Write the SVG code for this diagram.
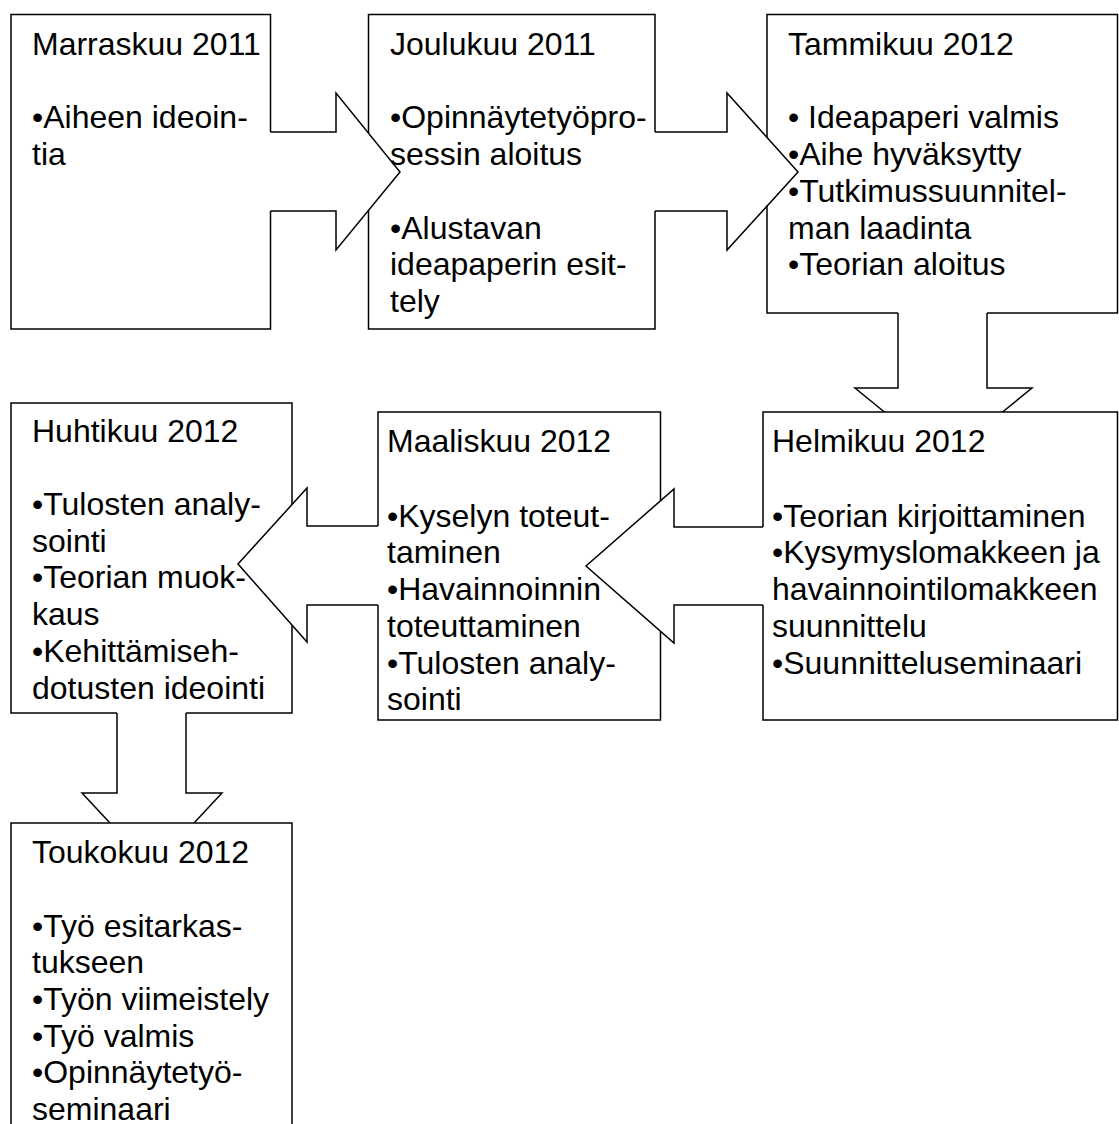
<svg xmlns="http://www.w3.org/2000/svg" width="1119" height="1124" viewBox="0 0 1119 1124">
<style>
.edge{fill:none;stroke:#000;stroke-width:1.5;stroke-linejoin:miter}
.box{fill:none;stroke:#000;stroke-width:1.5}
text{font-family:"Liberation Sans",Arial,sans-serif;font-size:32px;fill:#000}
</style>
<rect width="1119" height="1124" fill="#fff"/>
<g id="connectors">
<path class="edge" d="M270.5,132 H336 V93 L400,172 L336,250 V211 H270.5"/>
<path class="edge" d="M655,132 H727 V93 L798,172 L727,250 V211 H655"/>
<path class="edge" d="M898,313 V388 H855 L884.4,412 M1002.6,412 L1032,388 H987 V313"/>
<path class="edge" d="M763,527 H674 V489 L586,566 L674,643 V605 H763"/>
<path class="edge" d="M378,526 H307 V488 L238,564 L307,642 V605 H378"/>
<path class="edge" d="M117,713 V793 H82 L110,823 M194,823 L222,793 H186 V713"/>
</g>
<g id="marraskuu">
<path class="box" d="M270.5,132 V14.5 H11 V329 H270.5 V211"/>
<text x="32"><tspan x="32" y="55">Marraskuu 2011</tspan><tspan x="32" y="128.4">•Aiheen ideoin-</tspan><tspan x="32" y="165.1">tia</tspan></text>
</g>
<g id="joulukuu">
<path class="box" d="M368.5,133 V14.5 H655 V132 M655,211 V329 H368.5 V210"/>
<text><tspan x="390" y="55">Joulukuu 2011</tspan><tspan x="390" y="128.4">•Opinnäytetyöpro-</tspan><tspan x="390" y="165.1">sessin aloitus</tspan><tspan x="390" y="238.5">•Alustavan</tspan><tspan x="390" y="275.2">ideapaperin esit-</tspan><tspan x="390" y="311.9">tely</tspan></text>
</g>
<g id="tammikuu">
<path class="box" d="M767,137.5 V14.5 H1117.5 V313 H987 M898,313 H767 V205.5"/>
<text><tspan x="788" y="55">Tammikuu 2012</tspan><tspan x="788" y="128.4">• Ideapaperi valmis</tspan><tspan x="788" y="165.1">•Aihe hyväksytty</tspan><tspan x="788" y="201.8">•Tutkimussuunnitel-</tspan><tspan x="788" y="238.5">man laadinta</tspan><tspan x="788" y="275.2">•Teorian aloitus</tspan></text>
</g>
<g id="helmikuu">
<path class="box" d="M763,527 V412 H1117.5 V720 H763 V605"/>
<text><tspan x="772" y="452">Helmikuu 2012</tspan><tspan x="772" y="526.7">•Teorian kirjoittaminen</tspan><tspan x="772" y="563.4">•Kysymyslomakkeen ja</tspan><tspan x="772" y="600.1">havainnointilomakkeen</tspan><tspan x="772" y="636.8">suunnittelu</tspan><tspan x="772" y="673.5">•Suunnitteluseminaari</tspan></text>
</g>
<g id="maaliskuu">
<path class="box" d="M378,526 V412 H660.5 V501 M660.5,631 V720 H378 V605"/>
<text><tspan x="387" y="452">Maaliskuu 2012</tspan><tspan x="387" y="526.7">•Kyselyn toteut-</tspan><tspan x="387" y="563.4">taminen</tspan><tspan x="387" y="600.1">•Havainnoinnin</tspan><tspan x="387" y="636.8">toteuttaminen</tspan><tspan x="387" y="673.5">•Tulosten analy-</tspan><tspan x="387" y="710.2">sointi</tspan></text>
</g>
<g id="huhtikuu">
<path class="box" d="M292,504.5 V403 H11 V713 H117 M186,713 H292 V625.5"/>
<text><tspan x="32" y="441.7">Huhtikuu 2012</tspan><tspan x="32" y="515">•Tulosten analy-</tspan><tspan x="32" y="551.7">sointi</tspan><tspan x="32" y="588.4">•Teorian muok-</tspan><tspan x="32" y="625.1">kaus</tspan><tspan x="32" y="661.8">•Kehittämiseh-</tspan><tspan x="32" y="698.5">dotusten ideointi</tspan></text>
</g>
<g id="toukokuu">
<path class="box" d="M11,1130 V823 H292 V1130"/>
<text><tspan x="32" y="863.3">Toukokuu 2012</tspan><tspan x="32" y="936.6">•Työ esitarkas-</tspan><tspan x="32" y="973.3">tukseen</tspan><tspan x="32" y="1010">•Työn viimeistely</tspan><tspan x="32" y="1046.7">•Työ valmis</tspan><tspan x="32" y="1083.4">•Opinnäytetyö-</tspan><tspan x="32" y="1119.6">seminaari</tspan></text>
</g>
</svg>
